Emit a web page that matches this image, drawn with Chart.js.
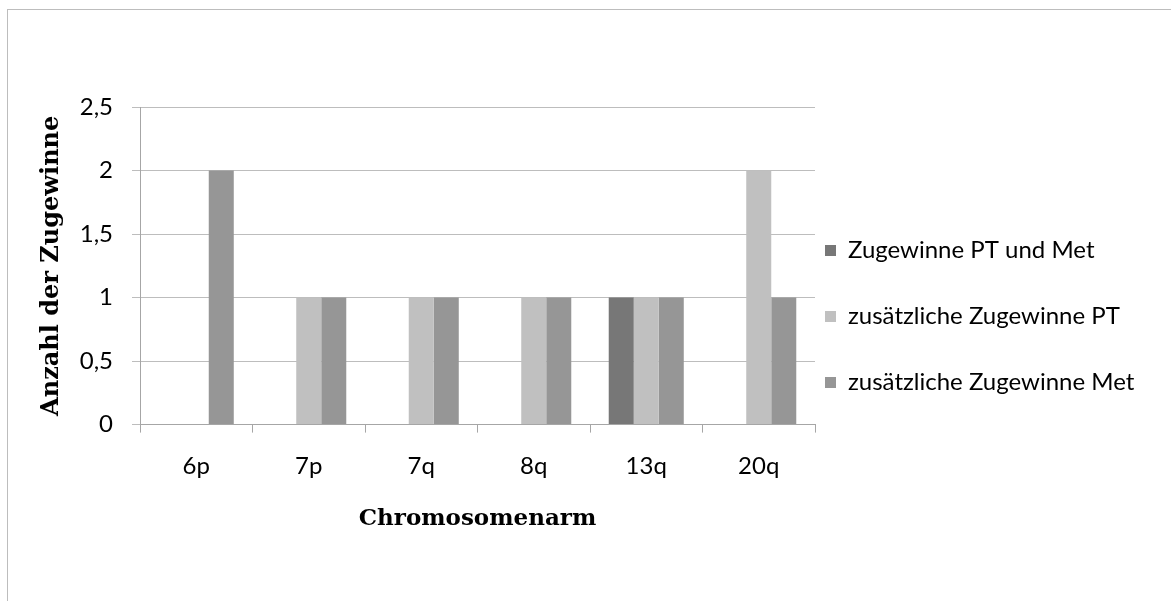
<!DOCTYPE html>
<html><head><meta charset="utf-8">
<script src="https://cdn.jsdelivr.net/npm/chart.js@4.4.1/dist/chart.umd.min.js"></script>
<style>
html,body{margin:0;padding:0;background:#fff;overflow:hidden;width:1171px;height:601px;}
#frame{position:absolute;left:7px;top:9px;width:1220px;height:700px;border:1px solid #bdbdbd;box-sizing:border-box;}
#wrap{position:absolute;left:0;top:0;width:1171px;height:601px;}
</style></head><body>
<div id="frame"></div>
<div id="wrap"><canvas id="c" width="1171" height="601"></canvas></div>
<script>
const categories = ['6p', '7p', '7q', '8q', '13q', '20q'];
const seriesNames = ['Zugewinne PT und Met', 'zusätzliche Zugewinne PT', 'zusätzliche Zugewinne Met'];
const gainsBoth = [0, 0, 0, 0, 1, 0];
const gainsPT = [0, 1, 1, 1, 1, 2];
const gainsMet = [2, 1, 1, 1, 1, 1];
const yTickValues = [0, 0.5, 1, 1.5, 2, 2.5];
const yTickLabels = ['0', '0,5', '1', '1,5', '2', '2,5'];
const xTitle = 'Chromosomenarm';
const yTitle = 'Anzahl der Zugewinne';
const seriesColors = ['#777777', '#c0c0c0', '#969696'];

const sansFont = 'Lato';
const serifFont = '"DejaVu Serif"';

const legendPlacement = {
  id: 'legendPlacement',
  afterLayout(chart) {
    const lg = chart.legend;
    if (!lg) return;
    const pad = lg.options.labels.padding;
    const dx = (chart.chartArea.right + 10) - (lg.left + pad);
    lg.left += dx;
    lg.right = chart.width;
    lg.top -= 3.5; lg.bottom -= 3.5;
  }
};

const seriesData = [gainsBoth, gainsPT, gainsMet];

new Chart(document.getElementById('c'), {
  type: 'bar',
  data: {
    labels: categories,
    datasets: seriesNames.map((name, i) => ({
      label: name,
      data: seriesData[i],
      backgroundColor: seriesColors[i],
      borderWidth: 0,
      categoryPercentage: 0.667,
      barPercentage: 1.0
    }))
  },
  plugins: [legendPlacement],
  options: {
    responsive: false,
    animation: false,
    devicePixelRatio: 1,
    layout: { padding: { left: 20, top: 107, right: 26, bottom: 68 } },
    plugins: {
      tooltip: { enabled: false },
      legend: {
        position: 'right',
        maxWidth: 330,
        labels: {
          boxWidth: 11,
          boxHeight: 11,
          padding: 42,
          color: '#000000',
          font: { family: sansFont, size: 24 }
        }
      }
    },
    scales: {
      x: {
        grid: {
          display: true,
          drawOnChartArea: false,
          drawTicks: true,
          tickLength: 8,
          color: '#a6a6a6',
          offset: true
        },
        border: { display: true, color: '#a6a6a6', width: 1 },
        ticks: {
          color: '#000000',
          padding: 19,
          font: { family: sansFont, size: 24 },
          maxRotation: 0
        },
        title: {
          display: true,
          text: xTitle,
          color: '#000000',
          font: { family: serifFont, size: 23, weight: 'bold' },
          padding: { top: 6, bottom: 0 }
        }
      },
      y: {
        min: 0,
        max: 2.5,
        afterFit(scale) { scale.width = 120; },
        grid: {
          color: '#bdbdbd',
          lineWidth: 1,
          drawTicks: true,
          tickLength: 8
        },
        border: { display: true, color: '#a6a6a6', width: 1 },
        ticks: {
          stepSize: 0.5,
          color: '#000000',
          padding: 19,
          font: { family: sansFont, size: 24 },
          callback: (value) => {
            const i = yTickValues.indexOf(value);
            return i >= 0 ? yTickLabels[i] : '';
          }
        },
        title: {
          display: true,
          text: yTitle,
          color: '#000000',
          font: { family: serifFont, size: 24, weight: 'bold' },
          padding: { top: 17, bottom: 0 }
        }
      }
    }
  }
});
</script>
</body></html>
